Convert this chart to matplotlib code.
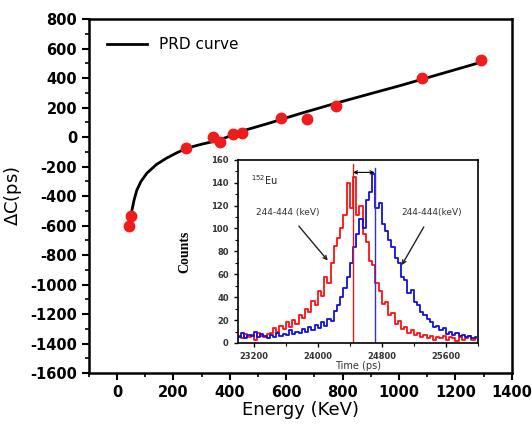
import numpy as np
import matplotlib
matplotlib.use("Agg")
import matplotlib.pyplot as plt
from matplotlib.ticker import MultipleLocator

plt.rcParams['axes.unicode_minus'] = False

# main panel: measured points and PRD curve
energy = [42, 49, 243, 342, 366, 410, 442, 582, 674, 776, 1080, 1291]
delta_c = [-603, -535, -75, 0, -30, 20, 30, 129, 122, 210, 400, 522]

curve_e = [42, 45, 49, 53, 60, 70, 85, 106, 140, 176, 210, 247, 300, 363, 450,
           540, 650, 776, 900, 1009, 1150, 1291]
curve_c = [-610, -560, -525, -495, -430, -360, -300, -244, -185, -142, -108, -75,
           -48, -20, 45, 95, 160, 230, 295, 352, 430, 508]

# inset: time spectra, 40 ps bins from 23000 to 26000 ps
t_start, t_width = 23000, 40
red_counts = [6, 4, 8, 5, 7, 3, 9, 6, 5, 8,
              9, 13, 10, 15, 12, 18, 14, 20, 17, 24,
              22, 30, 27, 37, 33, 45, 41, 58, 52, 70,
              85, 92, 100, 112, 140, 118, 145, 112, 120, 95,
              88, 72, 68, 52, 45, 34, 36, 24, 26, 17,
              19, 12, 14, 9, 11, 7, 9, 5,
              7, 4, 6, 3, 5, 4, 6, 3, 5, 4, 2, 5, 3, 4, 6, 3, 4]
blue_counts = [5, 9, 4, 7, 6, 10, 5, 8, 6, 4,
               7, 5, 9, 6, 8, 7, 11, 8, 10, 9,
               12, 10, 14, 11, 16, 13, 18, 15, 21, 19,
               28, 33, 40, 48, 58, 70, 84, 95, 108, 100,
               125, 132, 148, 118, 122, 104, 98, 90, 84, 74,
               70, 58, 55, 44, 46, 36, 33, 27, 24, 21,
               18, 14, 15, 11, 13, 8, 10, 7, 9, 6, 7, 5, 6, 4, 5]
red_peak, blue_peak = 24440, 24710

t_centers = t_start + t_width * (np.arange(len(red_counts)) + 0.5)

fig = plt.figure(figsize=(5.32, 4.25), dpi=100)
ax = fig.add_axes([0.167, 0.122, 0.795, 0.833])

ax.plot(curve_e, curve_c, color='black', lw=2, label='PRD curve', zorder=2)
ax.plot(energy, delta_c, 'o', color='#ee1c1c', ms=7.5, mec='#ee1c1c', zorder=3)

ax.set_xlim(-100, 1400)
ax.set_ylim(-1600, 800)
ax.xaxis.set_major_locator(MultipleLocator(200))
ax.xaxis.set_minor_locator(MultipleLocator(100))
ax.yaxis.set_major_locator(MultipleLocator(200))
ax.yaxis.set_minor_locator(MultipleLocator(100))
ax.tick_params(which='major', direction='out', length=5, width=1.5, labelsize=10.5)
ax.tick_params(which='minor', direction='out', length=3, width=1.2)
for lab in ax.get_xticklabels() + ax.get_yticklabels():
    lab.set_fontweight('bold')
for s in ax.spines.values():
    s.set_linewidth(1.8)
ax.set_xlabel('Energy (KeV)', fontsize=13, labelpad=1)
ax.set_ylabel(r'$\Delta$C(ps)', fontsize=13, labelpad=4)
ax.legend(loc='upper left', frameon=False, fontsize=11, handlelength=2.6,
          borderaxespad=0.8)

# inset
ins = fig.add_axes([0.447, 0.193, 0.451, 0.431])
ins.step(t_centers, red_counts, where='mid', color='#ff1010', lw=1.3)
ins.step(t_centers, blue_counts, where='mid', color='#1010dd', lw=1.3)
ins.plot([red_peak, red_peak], [0, 156], color='#cc2222', lw=1)
ins.plot([blue_peak, blue_peak], [0, 153], color='#3333cc', lw=1)
ins.annotate('', xy=(red_peak, 149), xytext=(blue_peak, 149),
             arrowprops=dict(arrowstyle='<->', lw=0.8, color='black',
                             shrinkA=0, shrinkB=0, mutation_scale=6))
ins.text(23160, 142, r'$^{152}$Eu', fontsize=7, color='#222222',
         va='center', ha='left')
ins.annotate('244-444 (keV)', xy=(24125, 72), xytext=(23620, 114),
             fontsize=6.5, color='#333333', ha='center', va='center',
             arrowprops=dict(arrowstyle='->', lw=1, color='#222222',
                             shrinkA=6, shrinkB=0))
ins.annotate('244-444(keV)', xy=(25050, 68), xytext=(25430, 114),
             fontsize=6.5, color='#333333', ha='center', va='center',
             arrowprops=dict(arrowstyle='->', lw=1, color='#222222',
                             shrinkA=6, shrinkB=0))

ins.set_xlim(23000, 26000)
ins.set_ylim(0, 160)
ins.set_xticks([23200, 24000, 24800, 25600])
ins.xaxis.set_minor_locator(MultipleLocator(400))
ins.yaxis.set_major_locator(MultipleLocator(20))
ins.yaxis.set_minor_locator(MultipleLocator(10))
ins.tick_params(which='major', direction='out', length=3, width=1, labelsize=6)
ins.tick_params(which='minor', direction='out', length=2, width=0.8)
for lab in ins.get_xticklabels() + ins.get_yticklabels():
    lab.set_fontweight('bold')
    lab.set_color('#333333')
for s in ins.spines.values():
    s.set_linewidth(1.2)
ins.set_xlabel('Time (ps)', fontsize=7, color='#333333', labelpad=0)
ins.set_ylabel('Counts', fontsize=10, fontweight='bold', family='Liberation Serif',
               labelpad=14)

fig.savefig('out.png', dpi=100)
